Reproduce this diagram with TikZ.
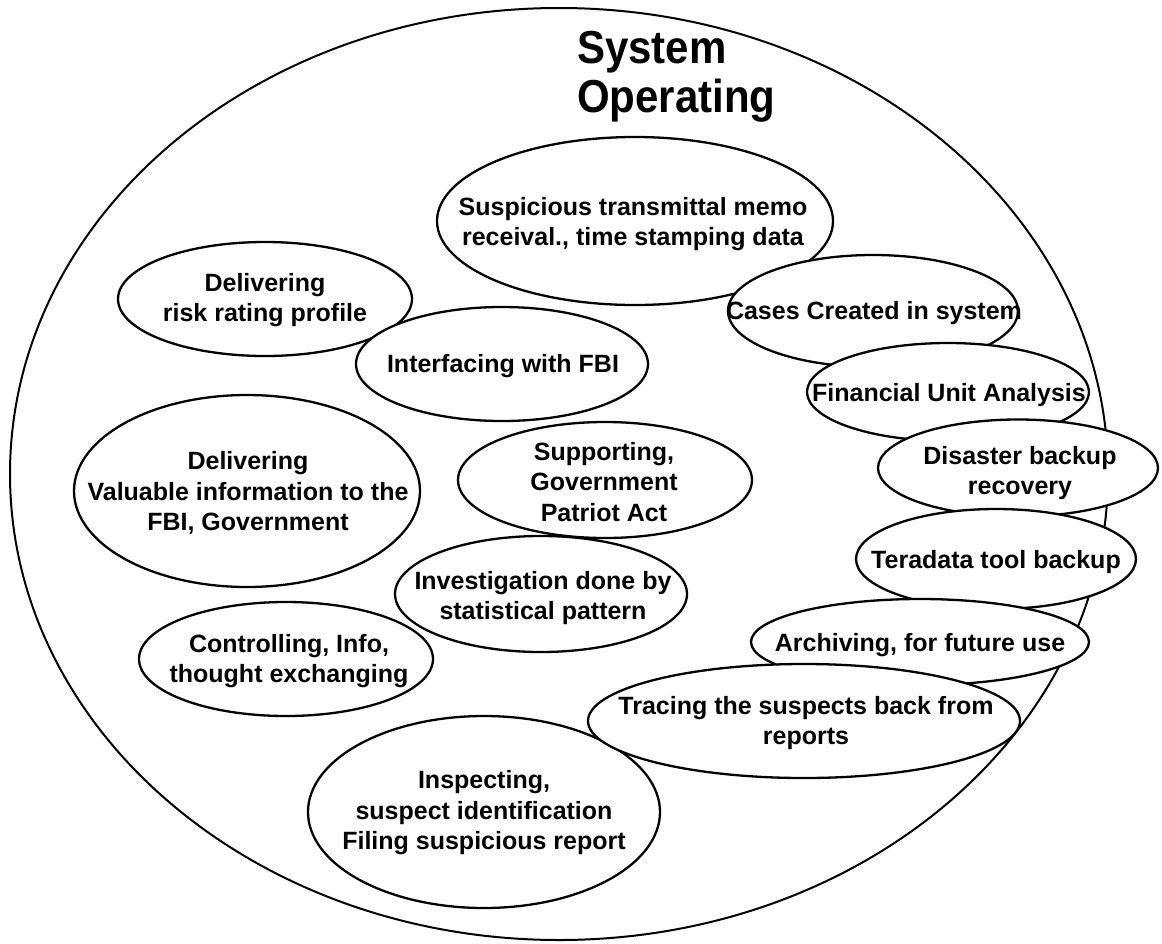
\documentclass[tikz,border=0pt]{standalone}
\usepackage{fontspec}
\setmainfont{Liberation Sans}
\usetikzlibrary{shapes.geometric}
\begin{document}
\begin{tikzpicture}[x=1pt,y=-1pt,
  bub/.style={ellipse, draw=black, fill=white, line width=2.3pt, inner sep=0pt},
  lbl/.style={font=\fontsize{25}{30.5}\selectfont\bfseries, align=center, inner sep=0pt},
  ttl/.style={font=\fontsize{42}{48}\selectfont\bfseries, inner sep=0pt, anchor=base west}]
\useasboundingbox (0,0) rectangle (1162,943);
\node[ellipse, draw=black, line width=2pt, minimum width=1098pt, minimum height=932pt, inner sep=0pt] (outer) at (559,474) {};
\node[ttl] (t1) at (577,63) {\scalebox{1}[1.1]{System}};
\node[ttl] (t2) at (577,112) {\scalebox{1}[1.1]{Operating}};

\node[bub, minimum width=396pt, minimum height=168pt] (susp) at (635,221) {};
\node[lbl] (suspT) at (633,224) {Suspicious transmittal memo\\receival., time stamping data};

\node[bub, minimum width=294pt, minimum height=114pt] (risk) at (265,299) {};
\node[lbl] (riskT) at (265,300) {Delivering\\risk rating profile};

\node[bub, minimum width=292pt, minimum height=114pt] (intf) at (502,364) {};
\node[lbl] (intfT) at (503,366) {Interfacing with FBI};

\node[bub, minimum width=346pt, minimum height=192pt] (deliv) at (247,491) {};
\node[lbl] (delivT) at (248,493) {Delivering\\Valuable information to the\\FBI, Government};

\node[bub, minimum width=294pt, minimum height=116pt] (supp) at (605,480) {};
\node[lbl] (suppT) at (604,482) {Supporting,\\Government\\Patriot Act};

\node[bub, minimum width=294pt, minimum height=114pt] (ctrl) at (286,659) {};
\node[lbl] (ctrlT) at (289,661) {Controlling, Info,\\thought exchanging};

\node[bub, minimum width=292pt, minimum height=116pt] (inv) at (541,594) {};
\node[lbl] (invT) at (543,598) {Investigation done by\\statistical pattern};

\node[bub, minimum width=352pt, minimum height=192pt] (insp) at (484,812) {};
\node[lbl] (inspT) at (484,813) {Inspecting,\\suspect identification\\Filing suspicious report};

\node[bub, minimum width=290pt, minimum height=112pt] (cases) at (873,311) {};
\node[lbl] (casesT) at (874,313) {Cases Created in system};

\node[bub, minimum width=282pt, minimum height=98pt] (fin) at (948,392) {};
\node[lbl] (finT) at (949,395) {Financial Unit Analysis};

\node[bub, minimum width=280pt, minimum height=97pt] (dis) at (1018,468) {};
\node[lbl] (disT) at (1020,473) {Disaster backup\\recovery};

\node[bub, minimum width=280pt, minimum height=100pt] (tera) at (996,559) {};
\node[lbl] (teraT) at (996,562) {Teradata tool backup};

\node[bub, minimum width=338pt, minimum height=86pt] (arch) at (920,642) {};
\node[lbl] (archT) at (920,645) {Archiving, for future use};

\node[bub, minimum width=432pt, minimum height=114pt] (trac) at (804,721) {};
\node[lbl] (tracT) at (806,723) {Tracing the suspects back from\\reports};
\end{tikzpicture}
\end{document}
